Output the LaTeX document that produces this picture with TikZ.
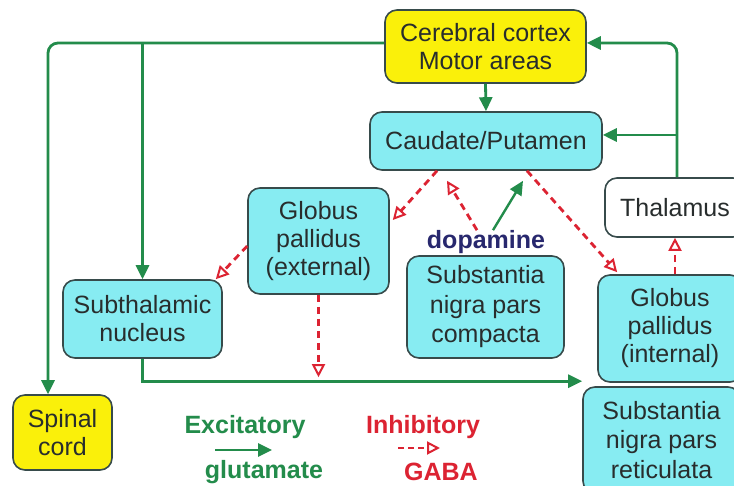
\documentclass[tikz,border=0pt]{standalone}
\usepackage{fontspec}
\setmainfont{Liberation Sans}
\usetikzlibrary{arrows.meta,positioning,calc}

\definecolor{boxcyan}{RGB}{135,236,242}
\definecolor{boxyellow}{RGB}{250,240,10}
\definecolor{edgegray}{RGB}{55,75,75}
\definecolor{txtgray}{RGB}{40,45,45}
\definecolor{exgreen}{RGB}{35,140,75}
\definecolor{inred}{RGB}{220,35,50}
\definecolor{dopablue}{RGB}{40,40,110}

\begin{document}
\begin{tikzpicture}[
  	x=1pt,
  	y=-1pt,
  	font=\fontsize{25}{28}\selectfont,
  	region/.style={draw=edgegray,line width=1.6pt,rounded corners=12pt,align=center,text=txtgray,inner sep=0pt},
  	cyanbox/.style={region,fill=boxcyan},
  	yellowbox/.style={region,fill=boxyellow},
  	whitebox/.style={region,fill=white},
  	excite/.style={draw=exgreen,line width=2.8pt,-{Triangle[length=14pt,width=13pt]}},
  	inhibit/.style={draw=inred,line width=2.8pt,dash pattern=on 7pt off 5pt,-{Triangle[open,length=13pt,width=13pt,line width=2pt]}},
  	dopalabel/.style={font=\fontsize{25}{28}\selectfont\bfseries,text=dopablue,inner sep=0pt},
  	legendtext/.style={font=\fontsize{25}{28}\selectfont\bfseries,inner sep=0pt}
  	]
  	\useasboundingbox (0,0) rectangle (734,486);
  	\fill[white] (0,0) rectangle (734,486);
  	\clip (0,0) rectangle (734,486);
  	
  	\node[yellowbox,minimum width=201,minimum height=73] (cortex) at (485.5,46.5) {Cerebral cortex\\Motor areas};
  	\node[cyanbox,minimum width=232,minimum height=58] (caudate) at (486,141) {Caudate/Putamen};
  	\node[whitebox,minimum width=140,minimum height=59] (thalamus) at (675,207.5) {Thalamus};
  	\node[cyanbox,minimum width=141,minimum height=106] (gpe) at (318.5,241) {Globus\\pallidus\\(external)};
  	\node[cyanbox,minimum width=159,minimum height=78] (stn) at (142.5,319) {Subthalamic\\nucleus};
  	\node[yellowbox,minimum width=99,minimum height=75] (spinal) at (62.5,432.5) {Spinal\\cord};
  	\node[cyanbox,minimum width=157,minimum height=102,font=\fontsize{25}{29.5}\selectfont] (snc) at (485.5,307) {Substantia\\nigra pars\\compacta};
  	\node[cyanbox,minimum width=144,minimum height=107] (gpi) at (670,328.5) {Globus\\pallidus\\(internal)};
  	\node[cyanbox,minimum width=157,minimum height=106,font=\fontsize{25}{29.5}\selectfont] (snr) at (661.5,440) {Substantia\\nigra pars\\reticulata};
  	\node[dopalabel] (dopa) at (486,242) {dopamine};
  	
  	% Cortical outputs
  	\coordinate (ctxleft) at ([yshift=3.5pt]cortex.west);
  	\draw[excite,rounded corners=10pt] (ctxleft) -| ([xshift=-14.5pt]spinal.north);
  	\draw[excite] (stn.north |- ctxleft) -- (stn.north);
  	\draw[excite] (cortex.south) -- (caudate.north);
  	
  	% Thalamic feedback
  	\coordinate (thaltop) at ([xshift=2pt]thalamus.north);
  	\coordinate (caudright) at ([yshift=6pt]caudate.east);
  	\draw[excite,rounded corners=10pt] (thaltop) |- ([yshift=3.5pt]cortex.east);
  	\draw[excite] (thaltop |- caudright) -- (caudright);
  	
  	% Striatal and nigral outputs
  	\draw[inhibit] ([xshift=-49pt]caudate.south) -- ([shift={(3,-21)}]gpe.east);
  	\draw[inhibit] ([xshift=41pt]caudate.south) -- ([shift={(20,-2)}]gpi.north west);
  	\draw[inhibit] ([xshift=-9pt]dopa.north) -- ([shift={(-39,10)}]caudate.south);
  	\draw[excite,line width=2.4pt] ([xshift=7pt]dopa.north) -- ([shift={(37,10)}]caudate.south);
  	\draw[inhibit] ([xshift=5pt]gpi.north) -- (thalamus.south);
  	
  	% Pallidal and subthalamic outputs
  	\coordinate (pathway) at ([yshift=5pt]snr.north west);
  	\draw[inhibit] ([yshift=-5pt]gpe.west) -- ([xshift=-7pt]stn.north east);
  	\draw[excite] (stn.south) |- (pathway);
  	\draw[inhibit,shorten >=4pt] (gpe.south) -- (gpe.south |- pathway);
  	
  	% Legend
  	\node[legendtext,text=exgreen] (excit) at (245,427) {Excitatory};
  	\node[legendtext,text=exgreen] (glut) at (264,472) {glutamate};
  	\coordinate (exstart) at (215,450);
  	\coordinate (exend) at (272,450);
  	\draw[excite] (exstart) -- (exend);
  	\node[legendtext,text=inred] (inhib) at (423,427) {Inhibitory};
  	\node[legendtext,text=inred] (gaba) at (441,472) {GABA};
  	\coordinate (instart) at (398,448);
  	\coordinate (inend) at (440,448);
  	\draw[inhibit,dash pattern=on 6pt off 4pt,line width=2.4pt] (instart) -- (inend);
\end{tikzpicture}
\end{document}
